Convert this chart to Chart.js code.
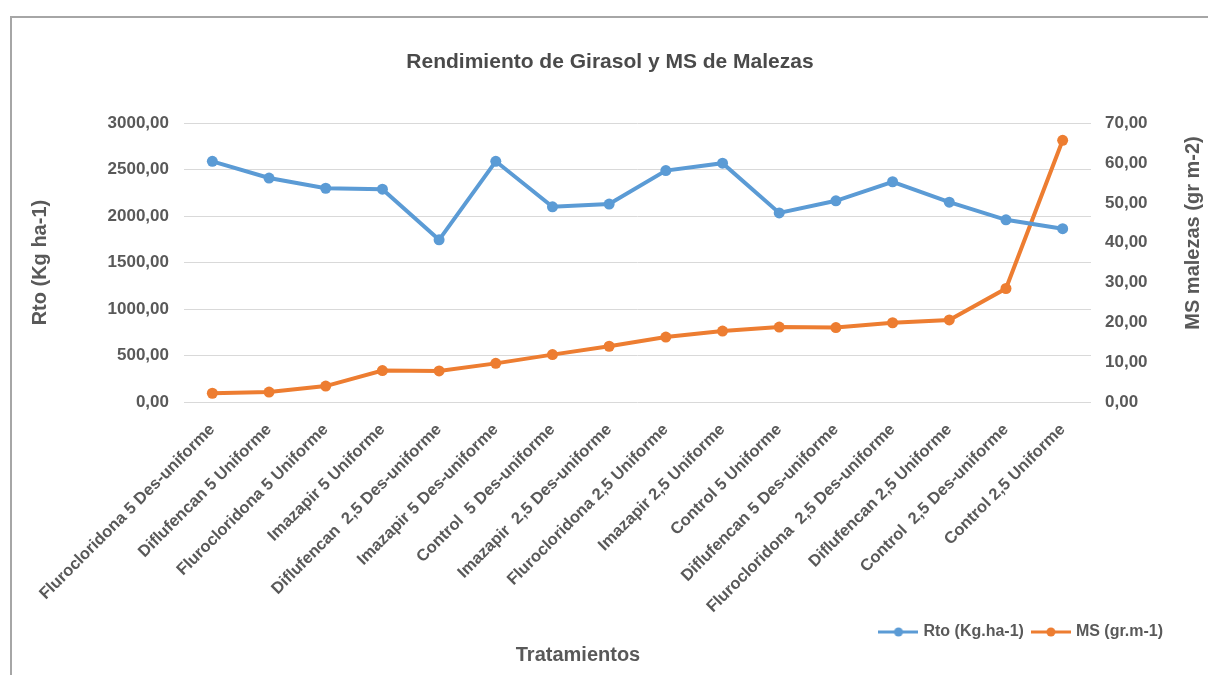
<!DOCTYPE html>
<html>
<head>
<meta charset="utf-8">
<script src="https://cdn.jsdelivr.net/npm/chart.js@4.4.0/dist/chart.umd.min.js"></script>
<style>
    body { margin: 0; background: #fff; }
    #frame {
        position: absolute; left: 10px; top: 16px; width: 1198px; height: 659px;
        border-left: 2px solid #a6a6a6; border-top: 2px solid #a6a6a6;
    }
    #wrap { position: absolute; left: 12px; top: 18px; width: 1196px; height: 657px; }
</style>
</head>
<body>
<div id="frame"></div>
<div id="wrap"><canvas id="girasol"></canvas></div>
<script>
/*jshint esversion: 6 */
var categories = [
    "Flurocloridona 5 Des-uniforme", "Diflufencan 5 Uniforme", "Flurocloridona 5 Uniforme",
    "Imazapir 5 Uniforme", "Diflufencan  2,5 Des-uniforme", "Imazapir 5 Des-uniforme",
    "Control  5 Des-uniforme", "Imazapir  2,5 Des-uniforme", "Flurocloridona 2,5 Uniforme",
    "Imazapir 2,5 Uniforme", "Control 5 Uniforme", "Diflufencan 5 Des-uniforme",
    "Flurocloridona  2,5 Des-uniforme", "Diflufencan 2,5 Uniforme", "Control  2,5 Des-uniforme",
    "Control 2,5 Uniforme"
];
var rtoValues = [2590, 2410, 2300, 2290, 1745, 2590, 2100, 2130, 2490, 2570, 2035, 2165, 2370, 2150, 1960, 1865];
var msValues = [2.2, 2.5, 4.0, 7.9, 7.8, 9.7, 11.9, 14.0, 16.3, 17.8, 18.8, 18.7, 19.9, 20.6, 28.5, 65.7];
var rtoTicks = [0, 3000, 500];
var msTicks = [0, 70, 10];

var titleText = "Rendimiento de Girasol y MS de Malezas";
var xTitle = "Tratamientos";
var leftTitle = "Rto (Kg ha-1)";
var rightTitle = "MS malezas (gr m-2)";
var legendNames = ["Rto (Kg.ha-1)", "MS (gr.m-1)"];

var colors = { rto: "rgb(91, 155, 213)", ms: "rgb(237, 125, 49)", text: "#595959", title: "#4a4a4a", grid: "#d9d9d9" };
var family = "'Liberation Sans', Arial, sans-serif";

function comma(v) {
    return Number(v).toFixed(2).replace('.', ',');
}

// little line + dot used as legend marker
function marker(color) {
    var c = document.createElement('canvas');
    c.width = 40;
    c.height = 12;
    var g = c.getContext('2d');
    g.strokeStyle = color;
    g.lineWidth = 3;
    g.beginPath();
    g.moveTo(0, 6);
    g.lineTo(40, 6);
    g.stroke();
    g.fillStyle = color;
    g.beginPath();
    g.arc(20, 6, 4.5, 0, Math.PI * 2);
    g.fill();
    return c;
}

var tweaks = {
    id: 'tweaks',
    afterLayout: function(chart) {
        var lg = chart.legend;
        lg.left -= 35; lg.right -= 35;
        lg.top += 7; lg.bottom += 7;
        // let the long rotated labels run past the scale box (they get clipped otherwise)
        chart.scales.x.bottom += 20;
        chart.boxes.forEach(function(b) {
            if (b.options && b.options.text === xTitle) {
                b.left -= 32; b.right -= 32;
            }
        });
    },
    afterDraw: function(chart) {
        var ctx = chart.ctx;
        ctx.save();
        ctx.translate(1181, 215);
        ctx.rotate(-Math.PI / 2);
        ctx.font = "bold 20px " + family;
        ctx.fillStyle = colors.text;
        ctx.textAlign = 'center';
        ctx.textBaseline = 'middle';
        ctx.fillText(rightTitle, 0, 0);
        ctx.restore();
    }
};

var ctx = document.getElementById('girasol').getContext('2d');
var chart = new Chart(ctx, {
    type: 'line',
    data: {
        labels: categories,
        datasets: [{
            label: legendNames[0],
            data: rtoValues,
            yAxisID: 'y',
            borderColor: colors.rto,
            backgroundColor: colors.rto,
            borderWidth: 4,
            pointRadius: 5.5,
            pointBorderWidth: 0,
            tension: 0
        }, {
            label: legendNames[1],
            data: msValues,
            yAxisID: 'y1',
            borderColor: colors.ms,
            backgroundColor: colors.ms,
            borderWidth: 4,
            pointRadius: 5.5,
            pointBorderWidth: 0,
            tension: 0
        }]
    },
    options: {
        responsive: true,
        maintainAspectRatio: false,
        animation: false,
        layout: { padding: 0 },
        plugins: {
            title: {
                display: true,
                text: titleText,
                color: colors.title,
                font: { family: family, size: 21, weight: 'bold' },
                padding: { top: 32, bottom: 48 }
            },
            subtitle: {
                display: true,
                position: 'bottom',
                text: xTitle,
                color: colors.text,
                font: { family: family, size: 20, weight: 'bold' },
                padding: { top: 0, bottom: 8 }
            },
            legend: {
                position: 'bottom',
                align: 'end',
                labels: {
                    usePointStyle: true,
                    pointStyleWidth: 34,
                    padding: 10,
                    color: colors.text,
                    font: { family: family, size: 16, weight: 'bold' },
                    generateLabels: function(ch) {
                        return ch.data.datasets.map(function(ds, i) {
                            return {
                                text: ds.label,
                                pointStyle: marker(ds.borderColor),
                                fillStyle: ds.borderColor,
                                strokeStyle: ds.borderColor,
                                lineWidth: 0,
                                fontColor: colors.text,
                                hidden: false,
                                datasetIndex: i
                            };
                        });
                    }
                }
            },
            tooltip: { enabled: false }
        },
        scales: {
            x: {
                offset: true,
                grid: { display: false, drawTicks: false },
                border: { display: false },
                ticks: {
                    autoSkip: false,
                    minRotation: 45,
                    maxRotation: 45,
                    padding: 18,
                    color: colors.text,
                    font: { family: family, size: 16.5, weight: 'bold' }
                },
                afterFit: function(scale) { scale.height = 205; }
            },
            y: {
                position: 'left',
                min: rtoTicks[0],
                max: rtoTicks[1],
                grid: { color: colors.grid, lineWidth: 1, drawTicks: false },
                border: { display: false },
                ticks: {
                    stepSize: rtoTicks[2],
                    padding: 15,
                    color: colors.text,
                    font: { family: family, size: 17, weight: 'bold' },
                    callback: function(v) { return comma(v); }
                },
                title: {
                    display: true,
                    text: leftTitle,
                    color: colors.text,
                    font: { family: family, size: 20, weight: 'bold' },
                    padding: { top: 16, bottom: 4 }
                },
                afterFit: function(scale) { scale.width = 172; }
            },
            y1: {
                position: 'right',
                min: msTicks[0],
                max: msTicks[1],
                grid: { display: false, drawTicks: false },
                border: { display: false },
                ticks: {
                    stepSize: msTicks[2],
                    padding: 14,
                    color: colors.text,
                    font: { family: family, size: 17, weight: 'bold' },
                    callback: function(v) { return comma(v); }
                },
                afterFit: function(scale) { scale.width = 117; }
            }
        }
    },
    plugins: [tweaks]
});
</script>
</body>
</html>
